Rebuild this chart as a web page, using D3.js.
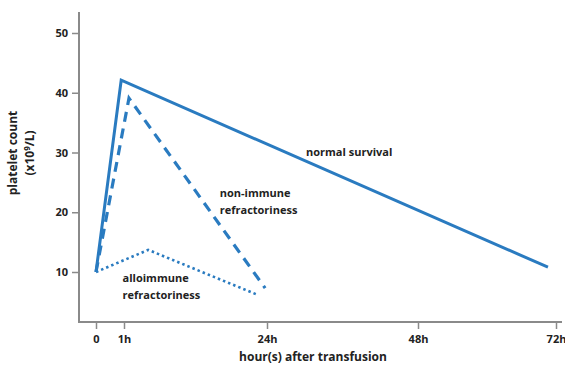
<!DOCTYPE html>
<html><head><meta charset="utf-8">
<script src="https://cdn.jsdelivr.net/npm/d3@7/dist/d3.min.js"></script>
<style>body{margin:0;background:#fff}text{font-family:"Open Sans",sans-serif;font-weight:bold;fill:#222}</style>
</head><body><svg id="c" width="565" height="367"></svg>
<script>
const xTickValues = [0, 1, 24, 48, 72];
const xTickLabels = ["0", "1h", "24h", "48h", "72h"];
const yTickValues = [10, 20, 30, 40, 50];
const normalSurvival = [[0, 10], [0.9, 42.1], [70.6, 10.8]];
const nonImmune = [[0, 10], [1.8, 39.1], [23.7, 7.3]];
const alloimmune = [[0, 10], [4.9, 13.7], [22.2, 6.3]];
const annotations = [
  {lines: ["normal survival"], x: 30.2, y: 29.4},
  {lines: ["non-immune", "refractoriness"], x: 16.4, y: 22.5},
  {lines: ["alloimmune", "refractoriness"], x: 0.95, y: 8.3}
];

const svg = d3.select("#c");
const x = d3.scaleLinear().domain(xTickValues).range([96, 124, 267, 418, 556]);
const y = d3.scaleLinear().domain([10, 50]).range([272, 33]);
const axisColor = "#8a8a8a";
const blue = "#2a7bc0";

svg.append("line").attr("x1", 79).attr("x2", 79).attr("y1", 12).attr("y2", 322)
  .attr("stroke", axisColor).attr("stroke-width", 2);
svg.append("line").attr("x1", 78).attr("x2", 562).attr("y1", 322).attr("y2", 322)
  .attr("stroke", axisColor).attr("stroke-width", 2);

const yAxis = svg.append("g").attr("transform", "translate(79,0)")
  .call(d3.axisLeft(y).tickValues(yTickValues).tickSize(7).tickPadding(4));
yAxis.select(".domain").remove();
yAxis.selectAll("line").attr("stroke", axisColor).attr("stroke-width", 1.5);
yAxis.selectAll("text").style("font-size", "11px").attr("fill", "#333").style("font-family", "'Open Sans',sans-serif").style("font-weight", "bold");

const xAxis = svg.append("g").attr("transform", "translate(0,322)")
  .call(d3.axisBottom(x).tickValues(xTickValues).tickFormat((d, i) => xTickLabels[i]).tickSize(7).tickPadding(6));
xAxis.select(".domain").remove();
xAxis.selectAll("line").attr("stroke", axisColor).attr("stroke-width", 1.5);
xAxis.selectAll("text").style("font-size", "11px").attr("fill", "#333").style("font-family", "'Open Sans',sans-serif").style("font-weight", "bold");

const line = d3.line().x(d => x(d[0])).y(d => y(d[1]));
svg.append("path").datum(normalSurvival).attr("d", line).attr("fill", "none")
  .attr("stroke", blue).attr("stroke-width", 3).attr("stroke-linejoin", "miter");
svg.append("path").datum(nonImmune).attr("d", line).attr("fill", "none")
  .attr("stroke", blue).attr("stroke-width", 3.2).attr("stroke-dasharray", "10,7");
svg.append("path").datum(alloimmune).attr("d", line).attr("fill", "none")
  .attr("stroke", blue).attr("stroke-width", 2.6).attr("stroke-dasharray", "2.5,3");

annotations.forEach(a => {
  const t = svg.append("text").attr("x", x(a.x)).attr("y", y(a.y)).style("font-size", "11px");
  a.lines.forEach((l, i) => t.append("tspan").attr("x", x(a.x)).attr("dy", i === 0 ? 0 : 17).text(l));
});

svg.append("text").attr("text-anchor", "middle").attr("x", 313).attr("y", 361)
  .style("font-size", "12px").text("hour(s) after transfusion");
const yt = svg.append("text").attr("text-anchor", "middle")
  .attr("transform", "translate(17,153) rotate(-90)").style("font-size", "12px");
yt.append("tspan").attr("x", 0).attr("dy", 0).text("platelet count");
const t2 = yt.append("tspan").attr("x", 0).attr("dy", 17).text("(x10");
t2.append("tspan").attr("dy", -4).style("font-size", "8px").text("9");
yt.append("tspan").attr("dy", 4).text("/L)");
</script></body></html>
